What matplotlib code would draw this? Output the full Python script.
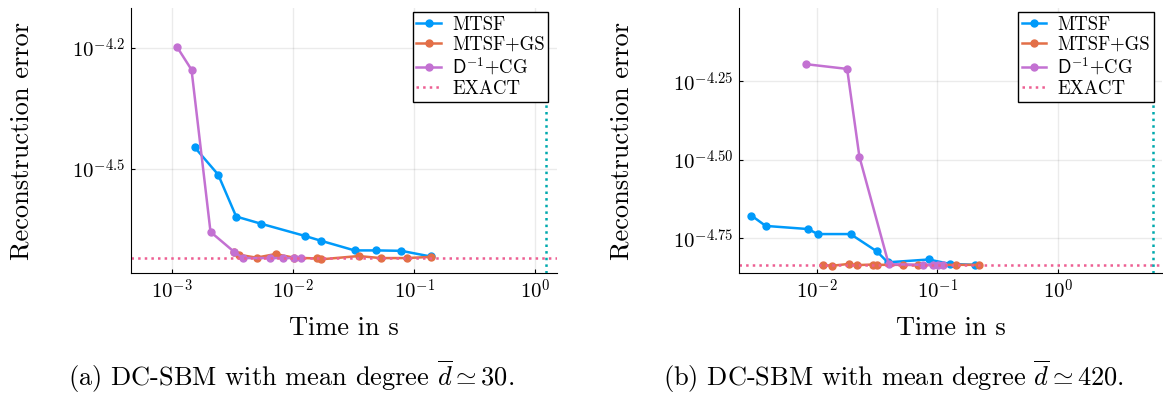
import numpy as np
import matplotlib
matplotlib.use("Agg")
import matplotlib.pyplot as plt

plt.rcParams['font.family'] = ['cmr10']
plt.rcParams['mathtext.fontset'] = 'cm'
plt.rcParams['axes.formatter.use_mathtext'] = True

# colours (Julia Plots default palette)
C_MTSF = "#009AFA"
C_GS = "#E36F47"
C_CG = "#C371D2"
C_EXACT = "#ED5F92"
C_VLINE = "#00A9AD"

# ---- panel (a): log10 time, log10 error ----
a_mtsf_t = [-2.815, -2.620, -2.471, -2.264, -1.904, -1.771, -1.493, -1.314, -1.107, -0.865]
a_mtsf_e = [-4.446, -4.514, -4.618, -4.636, -4.666, -4.678, -4.702, -4.702, -4.703, -4.717]
a_gs_t = [-2.490, -2.444, -2.303, -2.146, -1.994, -1.802, -1.766, -1.460, -1.275, -1.063, -0.860]
a_gs_e = [-4.705, -4.713, -4.720, -4.711, -4.720, -4.722, -4.724, -4.716, -4.721, -4.721, -4.718]
a_cg_t = [-2.959, -2.840, -2.683, -2.490, -2.416, -2.193, -2.085, -1.994, -1.939]
a_cg_e = [-4.198, -4.254, -4.656, -4.705, -4.721, -4.721, -4.721, -4.721, -4.721]
a_exact = -4.7215
a_exact_time = 0.0854

# ---- panel (b) ----
b_mtsf_t = [-2.543, -2.425, -2.074, -1.992, -1.721, -1.503, -1.412, -1.073, -0.897, -0.692]
b_mtsf_e = [-4.677, -4.710, -4.720, -4.736, -4.736, -4.791, -4.826, -4.817, -4.831, -4.834]
b_gs_t = [-1.948, -1.876, -1.732, -1.669, -1.537, -1.503, -1.288, -1.159, -0.847, -0.654]
b_gs_e = [-4.834, -4.837, -4.831, -4.835, -4.833, -4.834, -4.834, -4.835, -4.834, -4.834]
b_cg_t = [-2.088, -1.749, -1.647, -1.404, -1.117, -1.040, -0.999, -0.957]
b_cg_e = [-4.195, -4.210, -4.490, -4.832, -4.834, -4.834, -4.834, -4.834]
b_exact = -4.836
b_exact_time = 0.789

fig = plt.figure(figsize=(11.63, 3.94), dpi=100)
W, H = 1163, 394
ax1 = fig.add_axes([131 / W, (H - 273) / H, 426 / W, 265 / H])
ax2 = fig.add_axes([739 / W, (H - 273) / H, 423 / W, 265 / H])


def panel(ax, mt, me, gt, ge, ct, ce, exact, vx, xlim, ylim, yticks, ylabels, xticks, ylab_x):
    tt = lambda v: 10 ** np.array(v)
    ax.plot(tt(mt), tt(me), "-o", color=C_MTSF, lw=1.8, ms=5, label="MTSF")
    ax.plot(tt(gt), tt(ge), "-o", color=C_GS, lw=1.8, ms=5, label="MTSF+GS")
    ax.plot(tt(ct), tt(ce), "-o", color=C_CG, lw=1.8, ms=5, label=r"$\mathsf{D}^{-1}$+CG")
    ax.axhline(10 ** exact, color=C_EXACT, ls=":", lw=1.8, label="EXACT")
    ax.axvline(10 ** vx, color=C_VLINE, ls=":", lw=1.8)
    ax.set_xscale("log")
    ax.set_yscale("log")
    ax.set_xlim(10 ** xlim[0], 10 ** xlim[1])
    ax.set_ylim(10 ** ylim[0], 10 ** ylim[1])
    ax.set_xticks([10.0 ** k for k in xticks])
    ax.set_xticklabels([r"$10^{%d}$" % k for k in xticks])
    ax.xaxis.set_minor_locator(matplotlib.ticker.NullLocator())
    ax.set_yticks([10 ** v for v in yticks])
    ax.set_yticklabels(ylabels)
    ax.yaxis.set_minor_locator(matplotlib.ticker.NullLocator())
    ax.tick_params(labelsize=15, length=3, direction="in", pad=4)
    ax.grid(True, color="black", alpha=0.08, lw=1)
    for s in ["top", "right"]:
        ax.spines[s].set_visible(False)
    ax.set_xlabel("Time in s", fontsize=19)
    ax.xaxis.set_label_coords(0.5, -(328 - 273) / 265)
    ax.set_ylabel("Reconstruction error", fontsize=19)
    ax.yaxis.set_label_coords(ylab_x, 0.5)
    ax.xaxis.label.set_va("center")
    ax.yaxis.label.set_va("center")
    leg = ax.legend(loc="upper right", bbox_to_anchor=(0.98, 0.985), fontsize=13.5,
                    fancybox=False, framealpha=1, edgecolor="black",
                    handlelength=1.3, borderpad=0.2, labelspacing=0.12,
                    handletextpad=0.6, borderaxespad=0.0)
    leg.get_frame().set_linewidth(1.0)


panel(ax1, a_mtsf_t, a_mtsf_e, a_gs_t, a_gs_e, a_cg_t, a_cg_e, a_exact, a_exact_time,
      (-3.34, 0.18), (-4.758, -4.101), [-4.2, -4.5],
      [r"$10^{-4.2}$", r"$10^{-4.5}$"], [-3, -2, -1, 0], (22 - 131) / 426)
panel(ax2, b_mtsf_t, b_mtsf_e, b_gs_t, b_gs_e, b_cg_t, b_cg_e, b_exact, b_exact_time,
      (-2.646, 0.863), (-4.860, -4.016), [-4.25, -4.5, -4.75],
      [r"$10^{-4.25}$", r"$10^{-4.50}$", r"$10^{-4.75}$"], [-2, -1, 0], (622 - 739) / 423)

fig.text(291 / W, 1 - 377 / H, r"(a) DC-SBM with mean degree $\overline{d}\simeq 30$.",
         ha="center", va="center", fontsize=19)
fig.text(893 / W, 1 - 377 / H, r"(b) DC-SBM with mean degree $\overline{d}\simeq 420$.",
         ha="center", va="center", fontsize=19)

fig.savefig("out.png", dpi=100)
